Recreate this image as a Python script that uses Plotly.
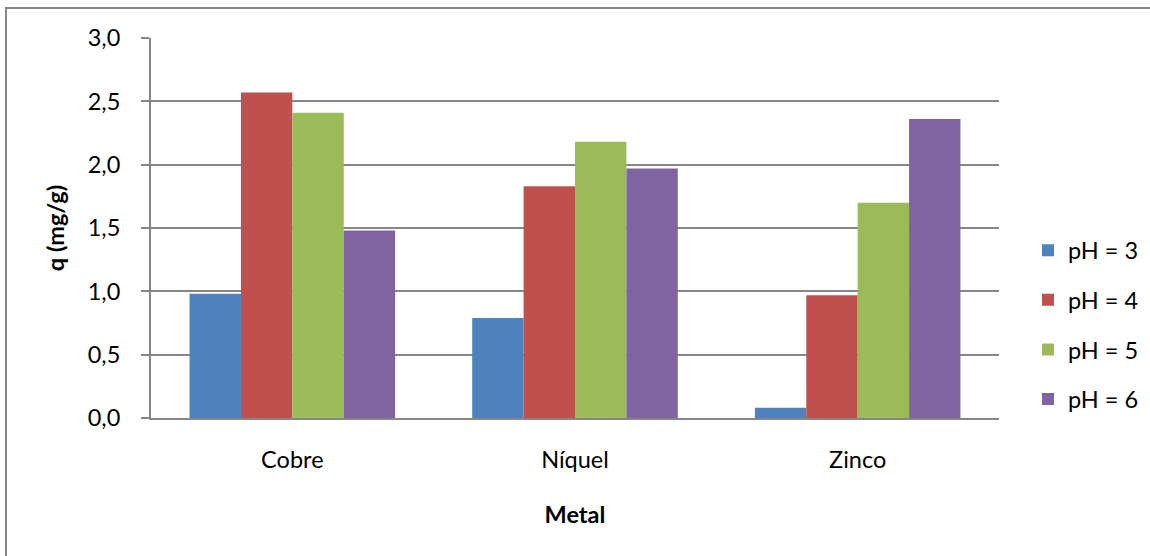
import plotly.graph_objects as go

# Adsorption capacity q (mg/g) per metal at each pH
metals = ["Cobre", "Níquel", "Zinco"]
ph_labels = ["pH = 3", "pH = 4", "pH = 5", "pH = 6"]
q_ph3 = [0.98, 0.79, 0.08]
q_ph4 = [2.57, 1.83, 0.97]
q_ph5 = [2.41, 2.18, 1.70]
q_ph6 = [1.48, 1.97, 2.36]
colors = ["#4F81BD", "#C0504D", "#9BBB59", "#8064A2"]

y_ticks = [0.0, 0.5, 1.0, 1.5, 2.0, 2.5, 3.0]

W, H = 1150, 556
L, R, T, B = 151, 151, 38, 138
PW = W - L - R
PH = H - T - B

FONT = "Lato, Carlito, Calibri, sans-serif"
FS = 23.5
GRID = "#868686"

fig = go.Figure()
for name, vals, col in zip(ph_labels, [q_ph3, q_ph4, q_ph5, q_ph6], colors):
    fig.add_trace(go.Bar(
        x=metals, y=vals, name=name, legendgroup=name,
        marker=dict(color=col, line=dict(width=0)),
    ))


def px_x(px):
    return (px - L) / PW


def px_y(py):
    return (H - B - py) / PH


fig.update_layout(
    width=W, height=H,
    margin=dict(l=L, r=R, t=T, b=B, autoexpand=False),
    paper_bgcolor="white", plot_bgcolor="white",
    separators=", ",
    font=dict(family=FONT, size=FS, color="#000000"),
    barmode="group",
    bargap=1.5 / 5.5,
    bargroupgap=0,
    showlegend=True,
    legend=dict(
        x=px_x(1028), xanchor="left",
        y=px_y(325), yanchor="middle",
        traceorder="grouped", tracegroupgap=16,
        font=dict(family=FONT, size=FS),
        bgcolor="rgba(0,0,0,0)",
    ),
    xaxis=dict(
        showgrid=False, showline=True, linecolor=GRID, linewidth=2,
        ticks="", ticklabelstandoff=20,
        tickfont=dict(family=FONT, size=FS),
        title=dict(text="<b>Metal</b>", standoff=34,
                   font=dict(family=FONT, size=FS)),
    ),
    yaxis=dict(
        range=[0, 3.0], tickvals=y_ticks, tickformat=".1f",
        showgrid=True, gridcolor=GRID, gridwidth=2,
        showline=True, linecolor=GRID, linewidth=2,
        ticks="outside", ticklen=8, tickcolor=GRID, tickwidth=2,
        ticklabelstandoff=16,
        tickfont=dict(family=FONT, size=FS),
        zeroline=False,
        title=dict(text="<b>q (mg/g)</b>", standoff=16,
                   font=dict(family=FONT, size=FS)),
    ),
    shapes=[dict(
        type="rect", xref="paper", yref="paper",
        x0=px_x(6), x1=px_x(1200), y0=px_y(700), y1=px_y(8),
        line=dict(color=GRID, width=2), fillcolor="rgba(0,0,0,0)",
        layer="below",
    )],
)

fig.write_html("out.html")
